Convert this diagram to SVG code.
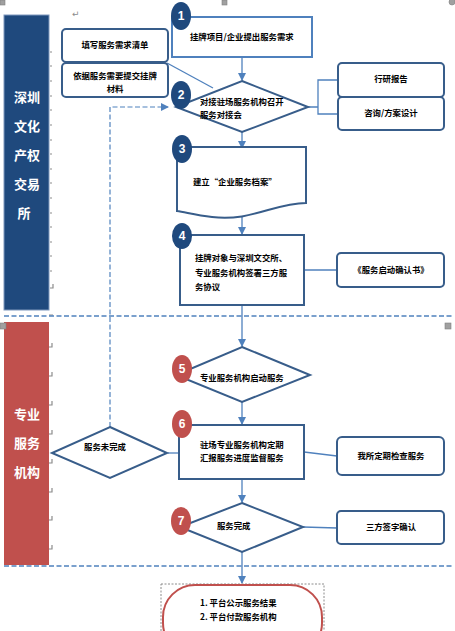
<svg xmlns="http://www.w3.org/2000/svg" width="455" height="631" viewBox="0 0 455 631">
<defs>
<marker id="arr" markerWidth="8" markerHeight="8" refX="7" refY="4" orient="auto" markerUnits="userSpaceOnUse">
<path d="M0,0 L8,4 L0,8 Z" fill="#4F81BD"/>
</marker>
<style>
.lane{stroke:#7f98bd;stroke-width:1}
.lt{font-family:"Noto Sans CJK SC","Noto Sans",sans-serif;font-size:13px;font-weight:bold;fill:#ffffff;text-anchor:middle}
.t{font-family:"Noto Sans CJK SC","Noto Sans",sans-serif;font-size:8.4px;font-weight:bold;fill:#000000}
.c{text-anchor:middle}
.box{fill:#ffffff;stroke:#385D8A;stroke-width:2}
.box1{fill:#ffffff;stroke:#4F81BD;stroke-width:2}
.rbox{fill:#ffffff;stroke:#385D8A;stroke-width:2}
.con{fill:none;stroke:#4F81BD;stroke-width:1.3}
.dash{fill:none;stroke:#4F81BD;stroke-width:1.5;stroke-dasharray:5 2.5}
.vdash{fill:none;stroke:#4F81BD;stroke-width:1.2;stroke-dasharray:5 2.5}
.num{font-family:"Liberation Sans",Arial,sans-serif;font-size:12px;font-weight:bold;fill:#ffffff;text-anchor:middle}
.navy{fill:#1F497D}
.red{fill:#C0504D}
.tick{stroke:#8c8c8c;stroke-width:1.2;fill:none}
.handle{fill:#a0a0a0;stroke:#808080;stroke-width:0.6}
</style>
</defs>

<!-- swimlanes -->
<g id="lane-szce">
<rect x="4" y="15" width="45" height="295" fill="#1F497D" class="lane"/>
<text class="lt" x="27" y="102">深圳</text>
<text class="lt" x="27" y="131">文化</text>
<text class="lt" x="27" y="160">产权</text>
<text class="lt" x="27" y="189">交易</text>
<text class="lt" x="24" y="218">所</text>
</g>
<g id="lane-pro">
<rect x="4" y="322" width="45" height="243" fill="#C0504D"/>
<text class="lt" x="27" y="419">专业</text>
<text class="lt" x="27" y="448">服务</text>
<text class="lt" x="27" y="477">机构</text>
</g>

<!-- word artifacts -->
<g id="marks">
<path class="tick" d="M50,52h2M50,66h2M50,81h2M50,96h2M50,110h2M50,125h2M50,140h2M50,154h2M50,169h2M50,183h2M50,198h2M50,213h2M50,227h2M50,242h2M50,256h2M50,271h2"/>
<path class="tick" d="M50,288h3v-4M53,315h-4"/>
<path class="tick" d="M49,347h3v-4M49,376h3v-4M49,405h3v-4M49,434h3v-4M49,463h3v-4M49,492h3v-4M49,520h3v-4M49,549h3v-4"/>
<text x="72" y="17" font-family="DejaVu Sans,sans-serif" font-size="9" fill="#8c8c8c">↵</text>
<rect class="handle" x="0" y="0" width="5" height="5"/>
<rect class="handle" x="222" y="0" width="5" height="5"/>
<circle class="handle" cx="452" cy="2" r="3"/>
<rect class="handle" x="0" y="323" width="6" height="6"/>
<rect class="handle" x="445" y="323" width="6" height="6"/>
</g>

<!-- connectors -->
<g id="connectors">
<path class="dash" d="M4,316H452"/>
<path class="dash" d="M4,566H452"/>
<path class="vdash" d="M110,427V107H168" marker-end="url(#arr)"/>
<path class="con" d="M242,57V80" marker-end="url(#arr)"/>
<path class="con" d="M167,63L213,88"/>
<path class="con" d="M308,107H318M338,80H318V114H338"/>
<path class="con" d="M242,132V148" marker-end="url(#arr)"/>
<path class="con" d="M242,212V234" marker-end="url(#arr)"/>
<path class="con" d="M304,270H338"/>
<path class="con" d="M242,305V346" marker-end="url(#arr)"/>
<path class="con" d="M242,402V424" marker-end="url(#arr)"/>
<path class="con" d="M168,453H179"/>
<path class="con" d="M304,452L337,456"/>
<path class="con" d="M242,479V502" marker-end="url(#arr)"/>
<path class="con" d="M303,527L337,528"/>
<path class="con" d="M242,552V583" marker-end="url(#arr)"/>
</g>

<!-- nodes -->
<g id="n1">
<rect class="box1" x="172" y="17" width="140" height="40"/>
<text class="t" x="190" y="40">挂牌项目/企业提出服务需求</text>
<ellipse class="navy" cx="181" cy="16" rx="10" ry="14"/>
<text class="num" x="181" y="20">1</text>
</g>
<g id="fill-list">
<rect class="rbox" x="62" y="29" width="106" height="33" rx="4"/>
<text class="t c" x="115" y="48">填写服务需求清单</text>
</g>
<g id="submit-docs">
<rect class="rbox" x="62" y="63" width="106" height="34" rx="4"/>
<text class="t c" x="115" y="79">依据服务需要提交挂牌</text>
<text class="t c" x="115" y="92">材料</text>
</g>
<g id="n2">
<path class="box" d="M242,81L308,107L242,132L176,107Z"/>
<text class="t" x="200" y="105">对接驻场服务机构召开</text>
<text class="t" x="200" y="118">服务对接会</text>
<ellipse class="navy" cx="181" cy="95" rx="10" ry="14"/>
<text class="num" x="181" y="99">2</text>
</g>
<g id="research">
<rect class="rbox" x="338" y="63" width="106" height="34" rx="4"/>
<text class="t c" x="391" y="82">行研报告</text>
</g>
<g id="consult">
<rect class="rbox" x="338" y="97" width="106" height="33" rx="4"/>
<text class="t c" x="391" y="116">咨询/方案设计</text>
</g>
<g id="n3">
<path class="box" d="M177,147H306V203C275,203 250,222 212,217C195,215 185,212 177,211Z"/>
<text class="t" x="193" y="185">建立“企业服务档案”</text>
<ellipse class="navy" cx="182" cy="149" rx="10" ry="14"/>
<text class="num" x="182" y="153">3</text>
</g>
<g id="n4">
<rect class="box" x="180" y="235" width="124" height="70"/>
<text class="t" x="195" y="261">挂牌对象与深圳文交所、</text>
<text class="t" x="195" y="276">专业服务机构签署三方服</text>
<text class="t" x="195" y="290">务协议</text>
<ellipse class="navy" cx="182" cy="236" rx="10" ry="13"/>
<text class="num" x="182" y="240">4</text>
</g>
<g id="confirm-letter">
<rect class="rbox" x="337" y="253" width="107" height="34" rx="4"/>
<text class="t c" x="391" y="273">《服务启动确认书》</text>
</g>
<g id="n5">
<path class="box" d="M242,347L310,375L242,402L176,375Z"/>
<text class="t" x="200" y="381">专业服务机构启动服务</text>
<ellipse class="red" cx="182" cy="369" rx="10" ry="14"/>
<text class="num" x="182" y="373">5</text>
</g>
<g id="n6">
<rect class="box" x="179" y="425" width="125" height="54"/>
<text class="t" x="200" y="448">驻场专业服务机构定期</text>
<text class="t" x="200" y="461">汇报服务进度监督服务</text>
<ellipse class="red" cx="182" cy="424" rx="10" ry="14"/>
<text class="num" x="182" y="428">6</text>
</g>
<g id="check">
<rect class="rbox" x="337" y="437" width="107" height="38" rx="5"/>
<text class="t c" x="391" y="459">我所定期检查服务</text>
</g>
<g id="not-done">
<path class="box" d="M110,427L167,453L110,478L52,453Z"/>
<text class="t c" x="105" y="450">服务未完成</text>
</g>
<g id="n7">
<path class="box" d="M242,503L303,527L242,552L180,527Z"/>
<text class="t" x="217" y="529">服务完成</text>
<ellipse class="red" cx="181" cy="521" rx="10" ry="14"/>
<text class="num" x="181" y="525">7</text>
</g>
<g id="sign">
<rect class="rbox" x="337" y="511" width="107" height="33" rx="4"/>
<text class="t c" x="391" y="530">三方签字确认</text>
</g>
<g id="final">
<rect x="161" y="584" width="163" height="60" fill="none" stroke="#8c8c8c" stroke-width="1" stroke-dasharray="2 1.5"/>
<rect x="163" y="585" width="159" height="70" rx="32" fill="#ffffff" stroke="#C0504D" stroke-width="2"/>
<text class="t" x="200" y="606" font-size="8.8">1. 平台公示服务结果</text>
<text class="t" x="200" y="620" font-size="8.8">2. 平台付款服务机构</text>
</g>
</svg>
